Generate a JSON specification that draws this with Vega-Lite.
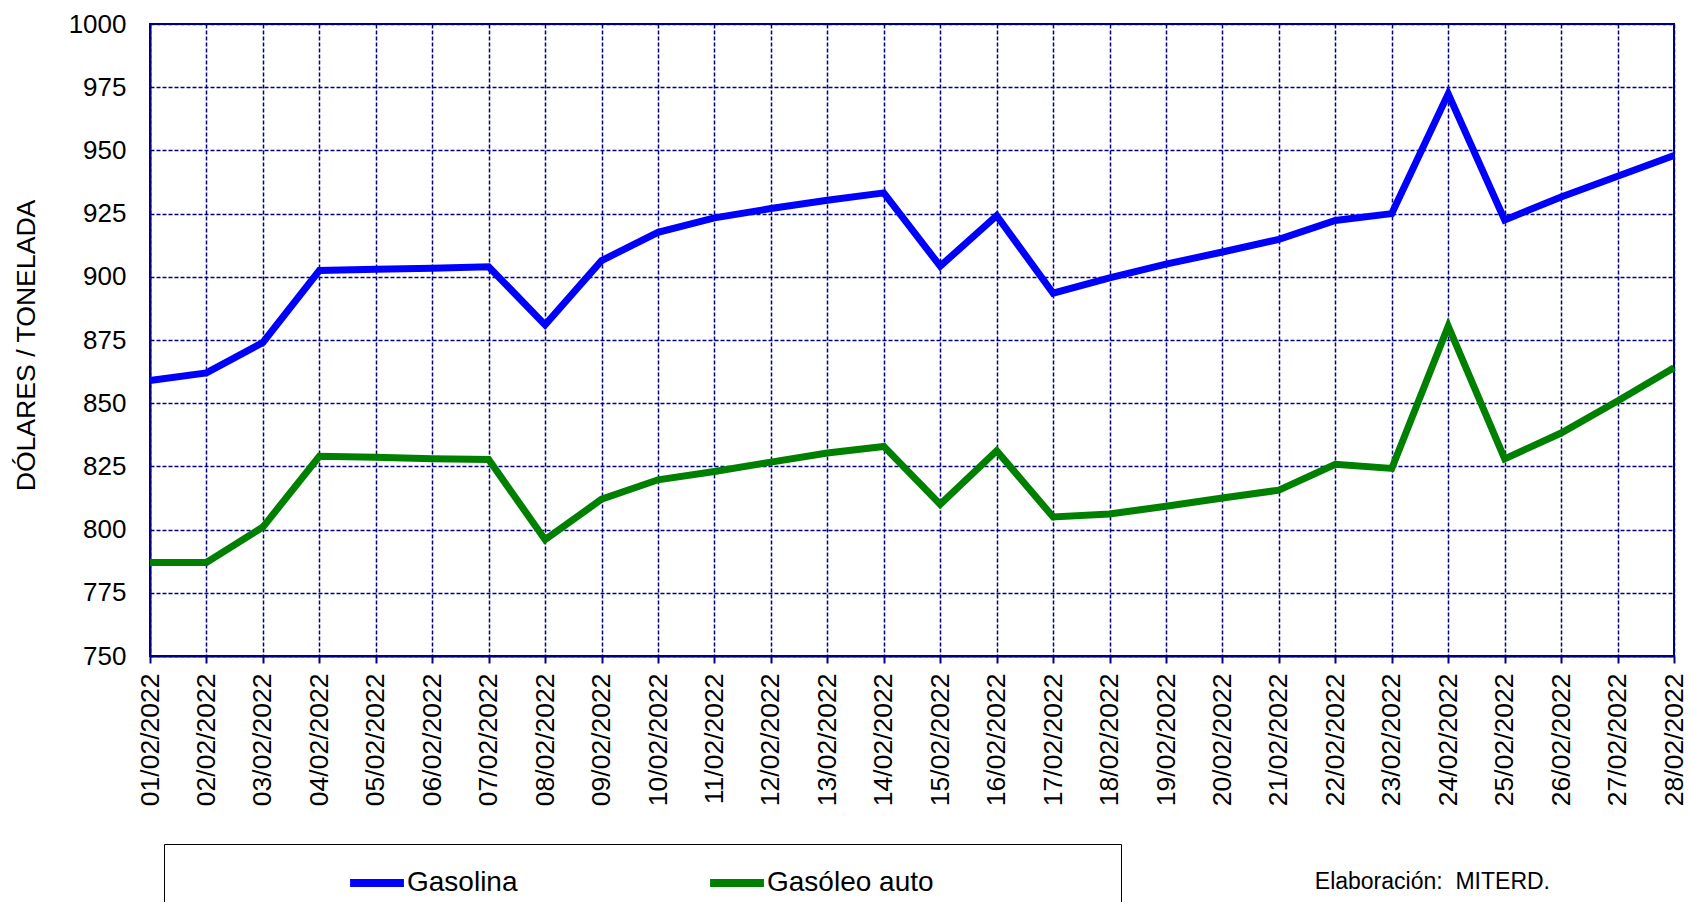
{
  "$schema": "https://vega.github.io/schema/vega-lite/v6.json",
  "width": 1524,
  "height": 632,
  "autosize": {"type": "none"},
  "padding": {"left": 150, "top": 24, "right": 17, "bottom": 246},
  "background": "white",
  "title": {
    "text": "Elaboración:\u00a0 MITERD.",
    "orient": "bottom",
    "anchor": "end",
    "frame": "group",
    "dx": -124,
    "dy": -37,
    "offset": 0,
    "font": "Liberation Sans",
    "fontSize": 23,
    "fontWeight": "normal",
    "color": "black"
  },
  "data": {
    "values": [
      {"fecha": "01/02/2022", "producto": "Gasolina", "precio": 859},
      {"fecha": "02/02/2022", "producto": "Gasolina", "precio": 862},
      {"fecha": "03/02/2022", "producto": "Gasolina", "precio": 874},
      {"fecha": "04/02/2022", "producto": "Gasolina", "precio": 902.5},
      {"fecha": "05/02/2022", "producto": "Gasolina", "precio": 903},
      {"fecha": "06/02/2022", "producto": "Gasolina", "precio": 903.4},
      {"fecha": "07/02/2022", "producto": "Gasolina", "precio": 904},
      {"fecha": "08/02/2022", "producto": "Gasolina", "precio": 881},
      {"fecha": "09/02/2022", "producto": "Gasolina", "precio": 906.4},
      {"fecha": "10/02/2022", "producto": "Gasolina", "precio": 917.6},
      {"fecha": "11/02/2022", "producto": "Gasolina", "precio": 923.3},
      {"fecha": "12/02/2022", "producto": "Gasolina", "precio": 927},
      {"fecha": "13/02/2022", "producto": "Gasolina", "precio": 930.3},
      {"fecha": "14/02/2022", "producto": "Gasolina", "precio": 933.2},
      {"fecha": "15/02/2022", "producto": "Gasolina", "precio": 904.2},
      {"fecha": "16/02/2022", "producto": "Gasolina", "precio": 924.2},
      {"fecha": "17/02/2022", "producto": "Gasolina", "precio": 893.5},
      {"fecha": "18/02/2022", "producto": "Gasolina", "precio": 899.6},
      {"fecha": "19/02/2022", "producto": "Gasolina", "precio": 905},
      {"fecha": "20/02/2022", "producto": "Gasolina", "precio": 909.8},
      {"fecha": "21/02/2022", "producto": "Gasolina", "precio": 914.8},
      {"fecha": "22/02/2022", "producto": "Gasolina", "precio": 922.3},
      {"fecha": "23/02/2022", "producto": "Gasolina", "precio": 925},
      {"fecha": "24/02/2022", "producto": "Gasolina", "precio": 972.4},
      {"fecha": "25/02/2022", "producto": "Gasolina", "precio": 922.5},
      {"fecha": "26/02/2022", "producto": "Gasolina", "precio": 931.6},
      {"fecha": "27/02/2022", "producto": "Gasolina", "precio": 939.8},
      {"fecha": "28/02/2022", "producto": "Gasolina", "precio": 948},
      {"fecha": "01/02/2022", "producto": "Gasóleo auto", "precio": 787},
      {"fecha": "02/02/2022", "producto": "Gasóleo auto", "precio": 787},
      {"fecha": "03/02/2022", "producto": "Gasóleo auto", "precio": 801},
      {"fecha": "04/02/2022", "producto": "Gasóleo auto", "precio": 829},
      {"fecha": "05/02/2022", "producto": "Gasóleo auto", "precio": 828.6},
      {"fecha": "06/02/2022", "producto": "Gasóleo auto", "precio": 828},
      {"fecha": "07/02/2022", "producto": "Gasóleo auto", "precio": 827.7},
      {"fecha": "08/02/2022", "producto": "Gasóleo auto", "precio": 796},
      {"fecha": "09/02/2022", "producto": "Gasóleo auto", "precio": 812},
      {"fecha": "10/02/2022", "producto": "Gasóleo auto", "precio": 819.7},
      {"fecha": "11/02/2022", "producto": "Gasóleo auto", "precio": 823},
      {"fecha": "12/02/2022", "producto": "Gasóleo auto", "precio": 826.7},
      {"fecha": "13/02/2022", "producto": "Gasóleo auto", "precio": 830.3},
      {"fecha": "14/02/2022", "producto": "Gasóleo auto", "precio": 832.9},
      {"fecha": "15/02/2022", "producto": "Gasóleo auto", "precio": 810},
      {"fecha": "16/02/2022", "producto": "Gasóleo auto", "precio": 831.2},
      {"fecha": "17/02/2022", "producto": "Gasóleo auto", "precio": 805},
      {"fecha": "18/02/2022", "producto": "Gasóleo auto", "precio": 806.2},
      {"fecha": "19/02/2022", "producto": "Gasóleo auto", "precio": 809.2},
      {"fecha": "20/02/2022", "producto": "Gasóleo auto", "precio": 812.5},
      {"fecha": "21/02/2022", "producto": "Gasóleo auto", "precio": 815.6},
      {"fecha": "22/02/2022", "producto": "Gasóleo auto", "precio": 825.8},
      {"fecha": "23/02/2022", "producto": "Gasóleo auto", "precio": 824.2},
      {"fecha": "24/02/2022", "producto": "Gasóleo auto", "precio": 880.5},
      {"fecha": "25/02/2022", "producto": "Gasóleo auto", "precio": 828},
      {"fecha": "26/02/2022", "producto": "Gasóleo auto", "precio": 838.2},
      {"fecha": "27/02/2022", "producto": "Gasóleo auto", "precio": 850.9},
      {"fecha": "28/02/2022", "producto": "Gasóleo auto", "precio": 864}
    ]
  },
  "mark": {"type": "line", "strokeWidth": 7},
  "encoding": {
    "x": {
      "field": "fecha",
      "type": "ordinal",
      "sort": null,
      "scale": {"type": "point", "padding": 0},
      "axis": {
        "title": null,
        "labelAngle": -90,
        "labelAlign": "right",
        "labelBaseline": "middle",
        "labelFont": "Liberation Sans",
        "labelFontSize": 26.5,
        "labelColor": "black",
        "labelPadding": 10,
        "tickSize": 7,
        "tickColor": "#000080",
        "tickWidth": 2,
        "domainColor": "#000080",
        "domainWidth": 2,
        "grid": true,
        "gridColor": "#000080",
        "gridDash": [4, 2],
        "gridWidth": 1.5
      }
    },
    "y": {
      "field": "precio",
      "type": "quantitative",
      "scale": {"domain": [750, 1000], "nice": false, "zero": false},
      "axis": {
        "title": "DÓLARES / TONELADA",
        "titleFont": "Liberation Sans",
        "titleFontSize": 26.6,
        "titleFontWeight": "normal",
        "titleColor": "black",
        "titlePadding": 28,
        "titleY": 321,
        "values": [750, 775, 800, 825, 850, 875, 900, 925, 950, 975, 1000],
        "format": "d",
        "labelFont": "Liberation Sans",
        "labelFontSize": 26,
        "labelColor": "black",
        "labelPadding": 24,
        "ticks": false,
        "tickSize": 0,
        "domainColor": "#000080",
        "domainWidth": 2,
        "grid": true,
        "gridColor": "#000080",
        "gridDash": [4, 2],
        "gridWidth": 1.5
      }
    },
    "color": {
      "field": "producto",
      "type": "nominal",
      "scale": {"domain": ["Gasolina", "Gasóleo auto"], "range": ["#0000ff", "#008000"]},
      "legend": {
        "title": " ",
        "titleOrient": "left",
        "titleFontSize": 1,
        "titlePadding": 174,
        "orient": "none",
        "legendX": 14,
        "legendY": 820,
        "direction": "horizontal",
        "columns": 2,
        "columnPadding": -3,
        "symbolType": "stroke",
        "symbolSize": 2900,
        "symbolStrokeWidth": 8,
        "labelFont": "Liberation Sans",
        "labelFontSize": 28,
        "labelColor": "black",
        "labelOffset": -1,
        "labelLimit": 1000,
        "labelExpr": "datum.label + '\u00a0\u00a0\u00a0\u00a0\u00a0\u00a0\u00a0\u00a0\u00a0\u00a0\u00a0\u00a0\u00a0\u00a0\u00a0\u00a0\u00a0\u00a0\u00a0\u00a0\u00a0\u00a0\u00a0\u200b'",
        "padding": 8,
        "strokeColor": "black",
        "fillColor": "white"
      }
    }
  },
  "config": {
    "view": {"stroke": "#000080", "strokeWidth": 2}
  }
}
